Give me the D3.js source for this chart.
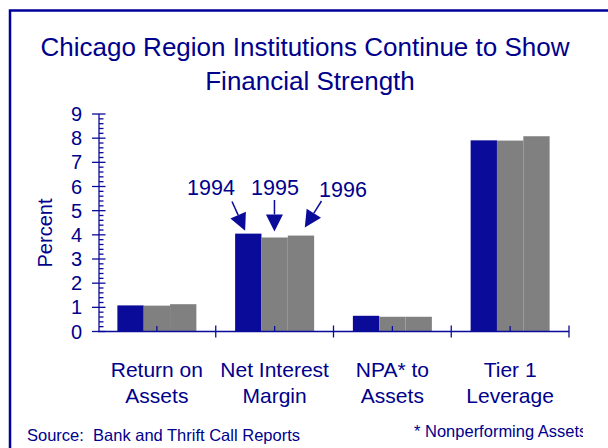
<!DOCTYPE html>
<html>
<head>
<meta charset="utf-8">
<script src="https://cdn.jsdelivr.net/npm/d3@7"></script>
<style>
  body { margin: 0; background: #fff; }
  svg { display: block; font-family: Arial, "Liberation Sans", sans-serif; }
</style>
</head>
<body>
<svg width="608" height="448"></svg>
<script>
const categories = [["Return on", "Assets"], ["Net Interest", "Margin"], ["NPA* to", "Assets"], ["Tier 1", "Leverage"]];
const years = ["1994", "1995", "1996"];
const values1994 = [1.08, 4.05, 0.65, 7.91];
const values1995 = [1.07, 3.89, 0.61, 7.90];
const values1996 = [1.13, 3.97, 0.61, 8.08];
const yTicks = [0, 1, 2, 3, 4, 5, 6, 7, 8, 9];

const blue = '#0b0b99';
const textBlue = '#00008c';
const gray = '#808080';

const svg = d3.select('svg');

// frame
svg.append('path')
    .attr('d', 'M10,460 V10.5 H620')
    .attr('fill', 'none')
    .attr('stroke', '#00009a')
    .attr('stroke-width', 2.5);

// title
svg.append('text')
    .attr('x', 305).attr('y', 56)
    .attr('text-anchor', 'middle')
    .attr('font-size', 26)
    .attr('fill', textBlue)
    .text('Chicago Region Institutions Continue to Show');
svg.append('text')
    .attr('x', 310).attr('y', 90)
    .attr('text-anchor', 'middle')
    .attr('font-size', 26)
    .attr('fill', textBlue)
    .text('Financial Strength');

const x = d3.scaleBand()
    .domain(d3.range(categories.length))
    .range([98, 569]);

const xSub = d3.scaleBand()
    .domain(years)
    .range([(x.bandwidth() - 79) / 2, (x.bandwidth() + 79) / 2]);

const y = d3.scaleLinear()
    .domain([0, 9])
    .range([331.5, 114]);

const series = years.map((yr, i) => ({
    year: yr,
    color: i == 0 ? blue : gray,
    values: [values1994, values1995, values1996][i]
}));

// bars
const groups = svg.selectAll('g.grp')
    .data(series)
    .join('g')
    .attr('class', 'grp')
    .attr('fill', d => d.color);

groups.selectAll('rect')
    .data(d => d.values.map((v, j) => ({v: v, j: j, year: d.year})))
    .join('rect')
    .attr('x', d => x(d.j) + xSub(d.year))
    .attr('width', xSub.bandwidth())
    .attr('y', d => y(d.v))
    .attr('height', d => y(0) - y(d.v));

// y axis
const yAxisG = svg.append('g').attr('stroke', blue).attr('stroke-width', 1.3);
yAxisG.append('line')
    .attr('x1', 99).attr('x2', 99)
    .attr('y1', y(9)).attr('y2', y(0));

const minor = d3.range(0, 9, 0.2).filter(v => Math.abs(v - Math.round(v)) > 0.01);
yAxisG.selectAll('line.minor')
    .data(minor)
    .join('line')
    .attr('class', 'minor')
    .attr('x1', 99).attr('x2', 103.5)
    .attr('y1', d => y(d)).attr('y2', d => y(d));

yAxisG.selectAll('line.major')
    .data(yTicks)
    .join('line')
    .attr('class', 'major')
    .attr('x1', 92).attr('x2', 105.5)
    .attr('y1', d => y(d)).attr('y2', d => y(d));

svg.selectAll('text.ytick')
    .data(yTicks)
    .join('text')
    .attr('class', 'ytick')
    .attr('x', 82)
    .attr('y', d => y(d) + 7)
    .attr('text-anchor', 'end')
    .attr('font-size', 20)
    .attr('fill', textBlue)
    .text(d => d);

svg.append('text')
    .attr('transform', 'translate(52,233) rotate(-90)')
    .attr('text-anchor', 'middle')
    .attr('font-size', 20)
    .attr('fill', textBlue)
    .text('Percent');

// x axis
const xAxisG = svg.append('g').attr('stroke', blue).attr('stroke-width', 1.3);
xAxisG.append('line')
    .attr('x1', 98).attr('x2', 569)
    .attr('y1', y(0)).attr('y2', y(0));

const bounds = d3.range(1, categories.length + 1).map(i => x(i - 1) + x.bandwidth());
xAxisG.selectAll('line.bound')
    .data(bounds)
    .join('line')
    .attr('class', 'bound')
    .attr('x1', d => d).attr('x2', d => d)
    .attr('y1', y(0) - 6).attr('y2', y(0) + 6);

xAxisG.selectAll('line.mid')
    .data(d3.range(categories.length))
    .join('line')
    .attr('class', 'mid')
    .attr('x1', d => x(d) + x.bandwidth() / 2).attr('x2', d => x(d) + x.bandwidth() / 2)
    .attr('y1', y(0) - 5.5).attr('y2', y(0));

// category labels
const catText = svg.selectAll('text.cat')
    .data(categories)
    .join('text')
    .attr('class', 'cat')
    .attr('text-anchor', 'middle')
    .attr('font-size', 21)
    .attr('fill', textBlue);

catText.selectAll('tspan')
    .data((d, i) => d.map(s => ({s: s, i: i})))
    .join('tspan')
    .attr('x', d => x(d.i) + x.bandwidth() / 2)
    .attr('y', (d, k) => 377 + k * 26)
    .text(d => d.s);

// year annotations pointing at Net Interest Margin bars
const nim = 1;
const annot = [
    {year: '1994', lx: 211, ly: 195, sx: 232, sy: 201.5, tx: x(nim) + xSub('1994') + 10, ty: y(values1994[nim]) - 3},
    {year: '1995', lx: 275, ly: 195, sx: x(nim) + xSub('1995') + 13, sy: 200, tx: x(nim) + xSub('1995') + 13, ty: y(values1995[nim]) - 6},
    {year: '1996', lx: 343, ly: 197, sx: 321.5, sy: 201, tx: x(nim) + xSub('1996') + 17, ty: y(values1996[nim]) - 8}
];

svg.selectAll('text.yr')
    .data(annot)
    .join('text')
    .attr('class', 'yr')
    .attr('x', d => d.lx).attr('y', d => d.ly)
    .attr('text-anchor', 'middle')
    .attr('font-size', 21.5)
    .attr('fill', textBlue)
    .text(d => d.year);

annot.forEach(d => {
    const dx = d.tx - d.sx, dy = d.ty - d.sy;
    const len = Math.sqrt(dx * dx + dy * dy);
    const ux = dx / len, uy = dy / len;
    const hl = 17, hw = 8.5;
    const bx = d.tx - ux * hl, by = d.ty - uy * hl;
    svg.append('line')
        .attr('x1', d.sx).attr('y1', d.sy)
        .attr('x2', bx).attr('y2', by)
        .attr('stroke', blue).attr('stroke-width', 1.5);
    svg.append('path')
        .attr('d', `M${d.tx},${d.ty} L${bx - uy * hw},${by + ux * hw} L${bx + uy * hw},${by - ux * hw} Z`)
        .attr('fill', blue);
});

// footer
svg.append('defs').append('clipPath').attr('id', 'clipR')
    .append('rect').attr('x', 0).attr('y', 0).attr('width', 583).attr('height', 448);

svg.append('text')
    .attr('x', 27).attr('y', 441)
    .attr('font-size', 16.5)
    .attr('fill', textBlue)
    .attr('xml:space', 'preserve')
    .style('white-space', 'pre')
    .text('Source:  Bank and Thrift Call Reports');

svg.append('text')
    .attr('x', 414).attr('y', 436.5)
    .attr('font-size', 16.5)
    .attr('fill', textBlue)
    .attr('clip-path', 'url(#clipR)')
    .text('* Nonperforming Assets');
</script>
</body>
</html>
